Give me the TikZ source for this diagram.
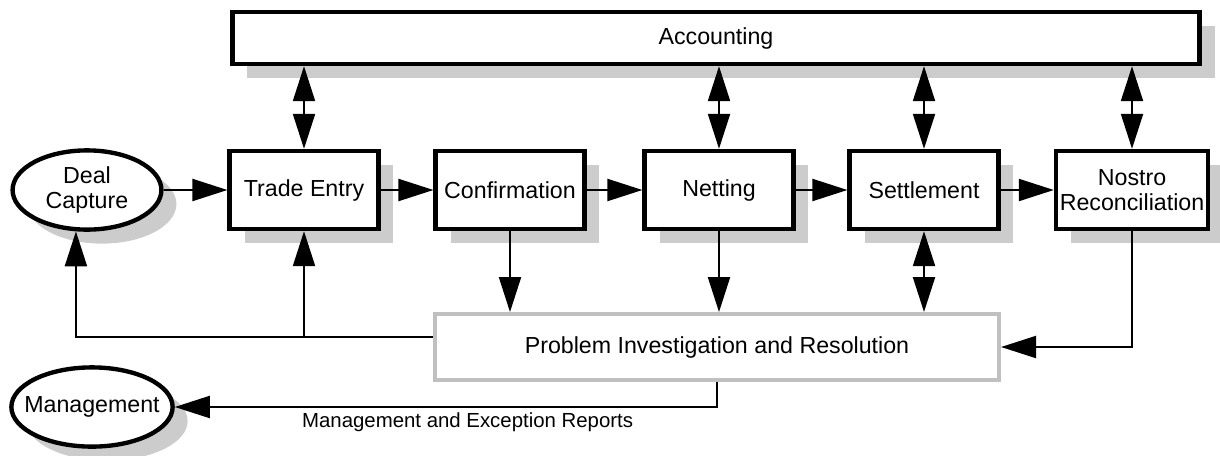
\documentclass[tikz,border=0pt]{standalone}
\usepackage{fontspec}
\setmainfont{Liberation Sans}
\usetikzlibrary{arrows.meta}
\usetikzlibrary{shadows}
\usetikzlibrary{shapes.geometric}
\definecolor{shadowgray}{HTML}{CCCCCC}
\definecolor{probgray}{HTML}{C0C0C0}

\begin{document}
\begin{tikzpicture}[x=0.025cm, y=-0.025cm,
    font=\fontsize{16.5}{18}\selectfont,
    >={Triangle[length=0.875cm, width=0.55cm]},
    boxshadow/.style={drop shadow={shadow xshift=0.375cm, shadow yshift=-0.35cm, fill=shadowgray, opacity=1}},
    box/.style={draw, line width=3.1pt, fill=white, minimum width=3.72cm, minimum height=1.95cm, align=center, inner sep=0pt, boxshadow},
    oval/.style={ellipse, draw, line width=3.1pt, fill=white, minimum height=1.98cm, align=center, inner sep=0pt, boxshadow},
    arr/.style={line width=1.5pt, ->},
    dbl/.style={line width=1.5pt, <->}]
    \useasboundingbox (0,0) rectangle (1220,455);

    \node[box, minimum width=24.17cm, minimum height=1.3cm] (acc) at (716,38) {Accounting};
    \node[oval, minimum width=3.72cm] (dc) at (87,190) {Deal\\Capture};
    \node[box] (te) at (304,190) {Trade Entry};
    \node[box] (conf) at (510,190) {Confirmation};
    \node[box] (net) at (719,190) {Netting};
    \node[box] (sett) at (924,190) {Settlement};
    \node[box, minimum width=3.8cm] (nos) at (1132,190) {Nostro\\Reconciliation};
    \node[draw=probgray, line width=2.8pt, fill=white, minimum width=14.1cm, minimum height=1.65cm] (prob) at (717,347) {Problem Investigation and Resolution};
    \node[oval, minimum width=4.03cm, inner xsep=-0.3cm] (mgmt) at (92,407) {Management};
    \coordinate (fb) at ([yshift=0.25cm]prob.west);

    \draw[arr] (dc) -- (te);
    \foreach \a/\b in {te/conf, conf/net, net/sett, sett/nos}
        \draw[arr] (\a) -- (\b);
    \foreach \n in {te, net, sett, nos}
        \draw[dbl] (acc.south -| \n.north) -- (\n.north);
    \draw[arr] (conf.south) -- (conf.south |- prob.north);
    \draw[arr] (net.south) -- (net.south |- prob.north);
    \draw[dbl] (sett.south) -- (sett.south |- prob.north);
    \draw[arr] (nos.south) |- (prob.east);
    \draw[arr] (fb) -| (dc.255);
    \draw[arr] (te.south |- fb) -- (te.south);
    \draw[arr] (prob.south) |- node[below, pos=0.73, font=\fontsize{14.5}{16}\selectfont] (rep) {Management and Exception Reports} (mgmt.east);

\end{tikzpicture}
\end{document}
